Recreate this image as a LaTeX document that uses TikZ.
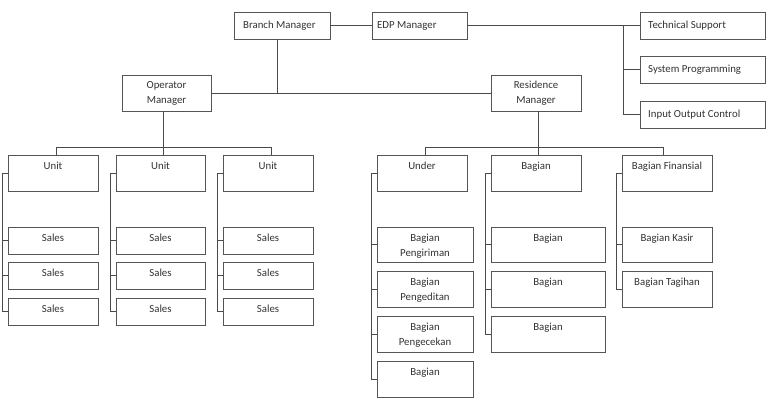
\documentclass[tikz,border=0pt]{standalone}
\usepackage{fontspec}
\setmainfont{Carlito}
\usetikzlibrary{calc}
\definecolor{boxc}{HTML}{555555}
\definecolor{linec}{HTML}{4A4A4A}
\definecolor{txtc}{HTML}{333333}
\newcommand\ff{\fontsize{10.8}{15}\selectfont}
\newcommand\tbx[6]{\node[box, minimum width=#4pt, minimum height=#5pt, label={[tl]north:{#6}}] (#1) at (#2,#3) {};}
\newcommand\lbx[7]{\node[box, minimum width=#4pt, minimum height=#5pt, label={[ll, xshift=#7pt]west:{#6}}] (#1) at (#2,#3) {};}
\newcommand\cbx[6]{\node[box, minimum width=#4pt, minimum height=#5pt] (#1) at (#2,#3) {#6};}
\newcommand\brk[2]{\draw[ln] (#1.west) -- ++(-5.5,0) |- (#2.west);}
\newcommand\tck[1]{\draw[ln] (#1.west) -- ++(-5.5,0);}
\begin{document}
\begin{tikzpicture}[x=1pt,y=-1pt,
  box/.style={draw=boxc, line width=0.9pt, fill=white, inner sep=0pt, outer sep=0pt, anchor=north west, font=\ff, text=txtc, align=center},
  ln/.style={draw=linec, line width=0.8pt},
  tl/.style={anchor=north, inner sep=0pt, yshift=-7pt, align=center, font=\ff, text=txtc},
  ll/.style={anchor=west, inner sep=0pt, font=\ff, text=txtc},
]
\useasboundingbox (0,0) rectangle (774,408);
% top row
\lbx{BM}{234}{12}{96}{27}{Branch Manager}{9}
\lbx{EDP}{372}{12}{95}{27}{EDP Manager}{5}
\lbx{TS}{640}{12}{125}{27}{Technical Support}{8}
\lbx{SP}{640}{56}{125}{27}{System Programming}{8}
\lbx{IOC}{640}{101}{125}{27}{Input Output Control}{8}
% managers
\cbx{OM}{122}{75}{89}{36}{Operator\\Manager}
\cbx{RM}{491}{75}{90}{36}{Residence\\Manager}
% left group
\tbx{U1}{8}{155}{90}{36}{Unit}
\tbx{U2}{116}{155}{89}{36}{Unit}
\tbx{U3}{223}{155}{90}{36}{Unit}
\tbx{S11}{8}{227}{90}{27}{Sales}
\tbx{S12}{8}{262}{90}{27}{Sales}
\tbx{S13}{8}{298}{90}{27}{Sales}
\tbx{S21}{116}{227}{89}{27}{Sales}
\tbx{S22}{116}{262}{89}{27}{Sales}
\tbx{S23}{116}{298}{89}{27}{Sales}
\tbx{S31}{223}{227}{90}{27}{Sales}
\tbx{S32}{223}{262}{90}{27}{Sales}
\tbx{S33}{223}{298}{90}{27}{Sales}
% right group
\tbx{UN}{377}{155}{90}{36}{Under}
\tbx{BH}{491}{155}{90}{36}{Bagian}
\tbx{FN}{622}{155}{90}{36}{Bagian Finansial}
\tbx{UA}{377}{227}{96}{35}{Bagian\\Pengiriman}
\tbx{UB}{377}{271}{96}{36}{Bagian\\Pengeditan}
\tbx{UC}{377}{316}{96}{36}{Bagian\\Pengecekan}
\tbx{UD}{377}{361}{96}{36}{Bagian}
\tbx{BA}{491}{227}{114}{35}{Bagian}
\tbx{BB}{491}{271}{114}{36}{Bagian}
\tbx{BC}{491}{316}{114}{36}{Bagian}
\tbx{FA}{622}{227}{90}{35}{Bagian Kasir}
\tbx{FB}{622}{271}{90}{36}{Bagian Tagihan}
% connectors top
\draw[ln] (BM.east) -- (EDP.west);
\draw[ln] (EDP.east) -- (TS.west);
\coordinate (rb) at (623,0);
\draw[ln] (TS.west -| rb) |- (IOC.west);
\draw[ln] (SP.west -| rb) -- (SP.west);
\draw[ln] (OM.east) -- (RM.west);
\coordinate (bv) at (277,0);
\draw[ln] (BM.south -| bv) -- (OM.east -| bv);
% left bus
\coordinate (lb) at (163,147);
\coordinate (L1) at (56,147);
\coordinate (L3) at (271,147);
\draw[ln] (OM.south -| lb) -- (U2.north -| lb);
\draw[ln] (U1.north -| L1) |- (L3) -- (U3.north -| L3);
% right bus
\coordinate (R0) at (538,147);
\coordinate (R1) at (425,147);
\coordinate (R3) at (663,147);
\draw[ln] (RM.south -| R0) -- (BH.north -| R0);
\draw[ln] (UN.north -| R1) |- (R3) -- (FN.north -| R3);
% brackets
\brk{U1}{S13} \tck{S11} \tck{S12}
\brk{U2}{S23} \tck{S21} \tck{S22}
\brk{U3}{S33} \tck{S31} \tck{S32}
\brk{UN}{UD} \tck{UA} \tck{UB} \tck{UC}
\brk{BH}{BC} \tck{BA} \tck{BB}
\brk{FN}{FB} \tck{FA}
\end{tikzpicture}
\end{document}
